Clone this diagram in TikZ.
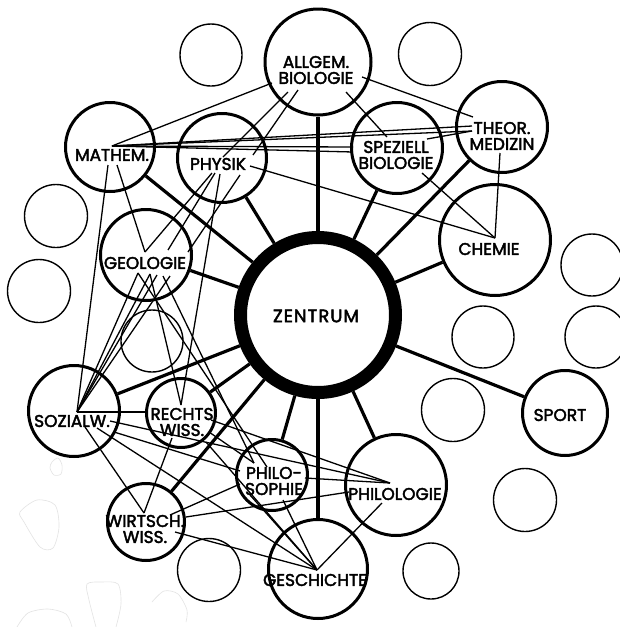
\documentclass[tikz,border=0pt]{standalone}
\usepackage{fontspec}
\newfontfamily\lab[FakeBold=2.4]{Poppins}
\begin{document}
\begin{tikzpicture}[x=1pt,y=-1pt,
  subj/.style={circle, draw, line width=3pt, inner sep=0pt},
  emptyc/.style={circle, draw, line width=1.4pt, inner sep=0pt},
  spoke/.style={line width=3.2pt},
  rel/.style={line width=1.3pt},
  txt/.style={font=\lab\fontsize{17}{16}\selectfont, align=center, inner sep=0pt},
  blob/.style={draw=gray!22, line width=0.6pt}]
\useasboundingbox (0,0) rectangle (620,627);
\fill[white] (0,0) rectangle (620,627);

% faint scan marks
\draw[blob] plot[smooth cycle] coordinates {(52,462) (58,458) (62,465) (61,474) (54,475) (50,468)};
\draw[blob] plot[smooth cycle] coordinates {(20,512) (37,500) (55,505) (59,527) (53,548) (40,547) (24,522)};
\draw[blob] plot[smooth] coordinates {(96,627) (89,600) (87,584) (102,582) (118,584) (121,604) (116,627)};
\draw[blob] plot[smooth] coordinates {(152,602) (164,591) (178,594) (187,610) (186,622)};
\draw[blob] plot[smooth] coordinates {(17,627) (28,613) (48,609) (66,614) (72,627)};

% empty circles
\node[emptyc, minimum size=62pt] (e1) at (211,55) {};
\node[emptyc, minimum size=63pt] (e2) at (430,54) {};
\node[emptyc, minimum size=63pt] (e3) at (56,216) {};
\node[emptyc, minimum size=63pt] (e4) at (39,291) {};
\node[emptyc, minimum size=62pt] (e5) at (592,265) {};
\node[emptyc, minimum size=62pt] (e6) at (483,337) {};
\node[emptyc, minimum size=62pt] (e7) at (596,337) {};
\node[emptyc, minimum size=63pt] (e8) at (453,410) {};
\node[emptyc, minimum size=63pt] (e9) at (525,500) {};
\node[emptyc, minimum size=56pt] (e10) at (431,571) {};
\node[emptyc, minimum size=63pt] (e11) at (209,570) {};
\node[emptyc, minimum size=62pt] (e12) at (152,341) {};

% subject circles
\node[circle, draw, line width=13pt, inner sep=0pt, minimum size=155pt] (zent) at (318,315) {};
\node[subj, minimum size=106pt] (allg) at (318,62) {};
\node[subj, minimum size=89pt] (math) at (110,147) {};
\node[subj, minimum size=89pt] (phys) at (222,158) {};
\node[subj, minimum size=91pt] (spez) at (397,148) {};
\node[subj, minimum size=91pt] (theor) at (502,127) {};
\node[subj, minimum size=111pt] (chem) at (495,240) {};
\node[subj, minimum size=91pt] (geol) at (146,255) {};
\node[subj, minimum size=85pt] (sport) at (565,413) {};
\node[subj, minimum size=101pt] (philol) at (396,485) {};
\node[subj, minimum size=99pt] (gesch) at (318,569) {};
\node[subj, minimum size=91pt] (soz) at (74,411) {};
\node[subj, minimum size=69pt] (recht) at (181,413) {};
\node[subj, minimum size=71pt] (philos) at (272,475) {};
\node[subj, minimum size=77pt] (wirt) at (146,522) {};

% spokes
\foreach \n in {allg,math,phys,spez,theor,chem,geol,sport,philol,gesch,soz,recht,philos,wirt}
  \draw[spoke] (\n) -- (zent);

% hub points
\coordinate (hM) at (112,146);
\coordinate (hMb1) at (108,165);
\coordinate (hMb2) at (117,165);
\coordinate (hA1) at (272,83);
\coordinate (hA2) at (288,92);
\coordinate (hA3) at (298,90);
\coordinate (hA4) at (346,92);
\coordinate (hA5) at (362,77);
\coordinate (hP1) at (223,157);
\coordinate (hP2) at (253,155);
\coordinate (hP3) at (250,166);
\coordinate (hP4) at (212,173);
\coordinate (hP5) at (215,173);
\coordinate (hP6) at (240,175);
\coordinate (hP7) at (220,174);
\coordinate (hS1) at (353,147);
\coordinate (hS2) at (353,152);
\coordinate (hS3) at (387,137);
\coordinate (hS4) at (427,139);
\coordinate (hS5) at (422,173);
\coordinate (hT1) at (472,126);
\coordinate (hT2) at (472,131);
\coordinate (hT3) at (473,117);
\coordinate (hT4) at (500,153);
\coordinate (hC) at (495,238);
\coordinate (hG1) at (145,252);
\coordinate (hG2) at (138,273);
\coordinate (hG3) at (150,274);
\coordinate (hG4) at (163,276);
\coordinate (hGx1) at (168,250);
\coordinate (hGx2) at (188,252);
\coordinate (hGy1) at (157,275);
\coordinate (hGy2) at (170,276);
\coordinate (hSo) at (77,412);
\coordinate (hSo1) at (110,421);
\coordinate (hSo2) at (85,427);
\coordinate (hSo3) at (97,428);
\coordinate (hSo4) at (114,432);
\coordinate (hR1) at (147,412);
\coordinate (hR2) at (181,405);
\coordinate (hR3) at (211,420);
\coordinate (hR4) at (209,432);
\coordinate (hR5) at (172,438);
\coordinate (hR6) at (206,442);
\coordinate (hPs1) at (254,463);
\coordinate (hPs2) at (267,467);
\coordinate (hPs3) at (240,471);
\coordinate (hPs4) at (305,478);
\coordinate (hPs5) at (250,495);
\coordinate (hPs6) at (283,500);
\coordinate (hPs7) at (240,484);
\coordinate (hPl) at (390,483);
\coordinate (hPl2) at (349,492);
\coordinate (hPl3) at (382,503);
\coordinate (hW1) at (144,513);
\coordinate (hW2) at (170,515);
\coordinate (hW3) at (186,517);
\coordinate (hW4) at (175,532);
\coordinate (hGe) at (317,570);

% relations
\draw[rel] (hM) -- (hA1);
\draw[rel] (hM) -- (hT1);
\draw[rel] (hM) -- (hT2);
\draw[rel] (hM) -- (hS1);
\draw[rel] (hM) -- (hS2);
\draw[rel] (hS4) -- (hT2);
\draw[rel] (hA5) -- (hT3);
\draw[rel] (hA4) -- (hS3);
\draw[rel] (hA2) -- (hP1);
\draw[rel] (hA3) -- (hP2);
\draw[rel] (hP3) -- (hC);
\draw[rel] (hS5) -- (hC);
\draw[rel] (hT4) -- (hC);
\draw[rel] (hMb1) -- (hSo);
\draw[rel] (hMb2) -- (hG1);
\draw[rel] (hP4) -- (hG1);
\draw[rel] (hP5) -- (hGx1);
\draw[rel] (hGy1) -- (hSo);
\draw[rel] (hP6) -- (hGx2);
\draw[rel] (hGy2) -- (hSo);
\draw[rel] (hP7) -- (hR2);
\draw[rel] (hG2) -- (hSo);
\draw[rel] (hG3) -- (hSo);
\draw[rel] (hG3) -- (hR2);
\draw[rel] (hG2) -- (hPs2);
\draw[rel] (hG4) -- (hPs1);
\draw[rel] (hSo) -- (hR1);
\draw[rel] (hSo2) -- (hW1);
\draw[rel] (hSo3) -- (hGe);
\draw[rel] (hSo4) -- (hPs3);
\draw[rel] (hSo1) -- (hPl);
\draw[rel] (hR5) -- (hW1);
\draw[rel] (hR3) -- (hPl);
\draw[rel] (hR4) -- (hPs1);
\draw[rel] (hR6) -- (hGe);
\draw[rel] (hW2) -- (hPs7);
\draw[rel] (hW3) -- (hPl2);
\draw[rel] (hW4) -- (hGe);
\draw[rel] (hPs4) -- (hPl);
\draw[rel] (hPs5) -- (hGe);
\draw[rel] (hPs6) -- (hGe);
\draw[rel] (hPl3) -- (hGe);

% labels
\node[txt] (allg-t) at (316,70) {ALLGEM.\\BIOLOGIE};
\node[txt] (math-t) at (112,155) {MATHEM.};
\node[txt] (phys-t) at (218,164) {PHYSIK};
\node[txt] (spez-t) at (396,155) {SPEZIELL\\BIOLOGIE};
\node[txt] (theor-t) at (502,136) {THEOR.\\MEDIZIN};
\node[txt] (chem-t) at (489,249) {CHEMIE};
\node[txt] (geol-t) at (145,263) {GEOLOGIE};
\node[txt, font=\lab\fontsize{18}{16}\selectfont] (zent-t) at (316,316) {Z\kern1ptE\kern1ptN\kern1ptT\kern1ptR\kern1ptU\kern1ptM};
\node[txt] (sport-t) at (560,415) {SPORT};
\node[txt] (soz-t) at (72,421) {SOZIALW.};
\node[txt] (recht-t) at (182,422) {RECHTS\\WISS.};
\node[txt] (philos-t) at (274,481) {PHILO-\\SOPHIE};
\node[txt] (philol-t) at (395,494) {PHILOLOGIE};
\node[txt] (wirt-t) at (145,529) {WIRTSCH.\\WISS.};
\node[txt] (gesch-t) at (315,580) {GESCHICHTE};
\end{tikzpicture}
\end{document}
